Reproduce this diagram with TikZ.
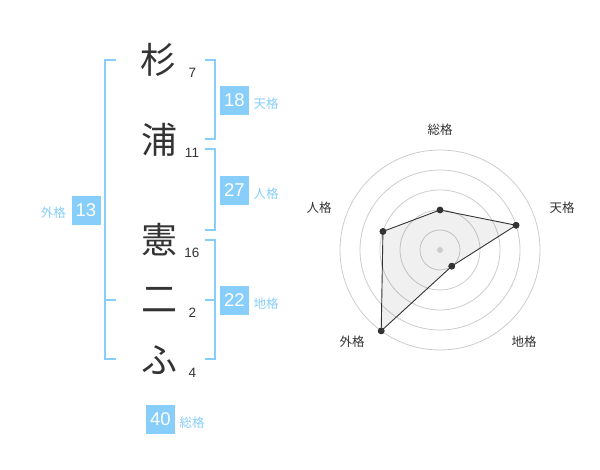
\documentclass[tikz,border=0pt]{standalone}
\usepackage{fontspec}
\setmainfont{Liberation Sans}
\newfontfamily\jpfont{Noto Sans CJK JP}
\definecolor{kakusky}{HTML}{87CEFA}
\definecolor{inkgray}{HTML}{333333}
\definecolor{ringgray}{HTML}{CCCCCC}

\begin{document}
\begin{tikzpicture}[x=1pt,y=-1pt,
    every node/.style={inner sep=0pt},
    moji/.style={text=inkgray,font=\jpfont\fontsize{36}{36}\selectfont},
    kakusu/.style={text=inkgray,font=\fontsize{13.5}{14}\selectfont},
    kakubox/.style={fill=kakusky,text=white,minimum size=29pt,font=\fontsize{18.5}{19}\selectfont},
    kakuname/.style={text=kakusky,font=\jpfont\fontsize{12.5}{13}\selectfont},
    bracket/.style={draw=kakusky,line width=2pt},
    ring/.style={draw=ringgray,line width=0.8pt},
    web/.style={draw=inkgray,line width=0.9pt,fill=black,fill opacity=0.06},
    webdot/.style={circle,fill=inkgray,minimum size=6.6pt},
    axisname/.style={text=inkgray,font=\jpfont\fontsize{12.5}{13}\selectfont}]
    \useasboundingbox (0,0) rectangle (600,470);
    % name characters and strokes
    \node[moji] (m1) at (158,60) {杉};
    \node[moji] (m2) at (159,140) {浦};
    \node[moji] (m3) at (159,240) {憲};
    \node[moji] (m4) at (159,300) {二};
    \node[moji] (m5) at (159,360) {ふ};
    \node[kakusu] (s1) at (192.5,73) {7};
    \node[kakusu] (s2) at (192,153) {11};
    \node[kakusu] (s3) at (192,252.5) {16};
    \node[kakusu] (s4) at (192.5,313) {2};
    \node[kakusu] (s5) at (192.5,373) {4};
    % brackets
    \draw[bracket] (116,60) -- (105,60) -- (105,359) -- (116,359);
    \draw[bracket] (105,300) -- (116,300);
    \draw[bracket] (205,60) -- (215,60) -- (215,139.5) -- (205,139.5);
    \draw[bracket] (205,149.5) -- (215,149.5) -- (215,230) -- (205,230);
    \draw[bracket] (205,240) -- (215,240) -- (215,359) -- (205,359);
    \draw[bracket] (205,300) -- (215,300);
    % totals
    \node[kakubox] (ten) at (234.5,100.5) {18};
    \node[kakuname,anchor=west] (tenname) at (253.5,103.5) {天格};
    \node[kakubox] (jin) at (234.5,190.5) {27};
    \node[kakuname,anchor=west] (jinname) at (253.5,193.5) {人格};
    \node[kakubox] (chi) at (234.5,300.5) {22};
    \node[kakuname,anchor=west] (chiname) at (253.5,303.5) {地格};
    \node[kakubox] (gai) at (86,210.5) {13};
    \node[kakuname,anchor=east] (gainame) at (66,213) {外格};
    \node[kakubox] (sou) at (160.5,419.5) {40};
    \node[kakuname,anchor=west] (souname) at (179.5,422.5) {総格};
    % radar
    \begin{scope}[shift={(440,250)}]
        \foreach \r in {20,40,60,80,100}
            \draw[ring] (0,0) circle (\r pt);
        \node[webdot] (psou) at (-90:40) {};
        \node[webdot] (pten) at (-18:80) {};
        \node[webdot] (pchi) at (54:20) {};
        \node[webdot] (pgai) at (126:100) {};
        \node[webdot] (pjin) at (198:60) {};
        \filldraw[web] (psou.center) -- (pten.center) -- (pchi.center) -- (pgai.center) -- (pjin.center) -- cycle;
        \foreach \p in {psou,pten,pchi,pgai,pjin}
            \fill[inkgray] (\p) circle (3.3pt);
        \node[circle,fill=ringgray,minimum size=6pt] (hub) at (0,0) {};
    \end{scope}
    \node[axisname] (asou) at (440,130) {総格};
    \node[axisname] (aten) at (562,208) {天格};
    \node[axisname] (achi) at (524,342) {地格};
    \node[axisname] (agai) at (352,342) {外格};
    \node[axisname] (ajin) at (319,208) {人格};
\end{tikzpicture}
\end{document}
